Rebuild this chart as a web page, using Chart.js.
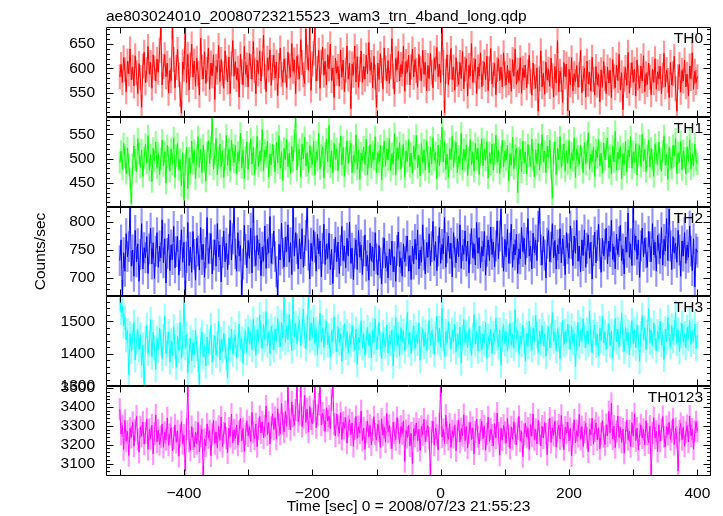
<!DOCTYPE html>
<html lang="en">
<head>
<meta charset="UTF-8">
<title>ae803024010 WAM light curve</title>
<script src="https://cdn.jsdelivr.net/npm/chart.js"></script>
<style>
body { margin: 0; background: #fff; }
#lc { display: block; }
</style>
</head>
<body>
<canvas id="lc" width="723" height="516"></canvas>
<script>
// time bins: start [sec] and bin width
const tStart = -500;
const tStep = 2;

const plotTitle = 'ae803024010_20080723215523_wam3_trn_4band_long.qdp';
const xTitle = 'Time [sec] 0 = 2008/07/23 21:55:23';
const yTitle = 'Counts/sec';
const bandNames = ['TH0', 'TH1', 'TH2', 'TH3', 'TH0123'];

// counts/sec per band, one row = 20 s
const th0 = [
  583, 608, 571, 622, 597, 552, 615, 589, 640, 576,
  603, 564, 626, 591, 548, 610, 581, 520, 605, 633,
  570, 597, 645, 588, 612, 559, 628, 601, 574, 619,
  592, 637, 684, 566, 604, 628, 583, 611, 549, 596,
  575, 685, 618, 560, 602, 639, 587, 547, 508, 613,
  598, 684, 571, 629, 556, 607, 650, 582, 615, 563,
  621, 590, 545, 662, 603, 578, 634, 569, 598, 642,
  557, 611, 585, 628, 536, 604, 592, 647, 573, 618,
  589, 559, 636, 601, 572, 623, 548, 609, 657, 584,
  614, 577, 600, 541, 629, 593, 566, 645, 588, 607,
  562, 631, 604, 578, 655, 596, 548, 617, 589, 636,
  574, 609, 668, 583, 552, 621, 597, 638, 565, 602,
  627, 580, 613, 544, 606, 642, 588, 571, 619, 596,
  561, 633, 605, 582, 651, 594, 617, 548, 625, 603,
  578, 659, 612, 587, 569, 681, 623, 596, 684, 555,
  609, 631, 683, 574, 600, 637, 559, 613, 644, 586,
  615, 566, 628, 599, 650, 575, 601, 540, 621, 590,
  604, 563, 638, 582, 617, 552, 596, 646, 578, 611,
  517, 609, 586, 646, 572, 624, 561, 598, 636, 571,
  604, 578, 627, 589, 653, 596, 612, 560, 625, 582,
  520, 611, 577, 630, 595, 558, 642, 601, 574, 616,
  569, 604, 661, 584, 547, 620, 597, 635, 574, 608,
  589, 646, 553, 614, 592, 627, 566, 603, 640, 582,
  618, 596, 561, 629, 600, 575, 637, 588, 612, 554,
  606, 579, 631, 592, 560, 621, 598, 643, 583, 609,
  571, 685, 612, 509, 594, 628, 566, 603, 641, 577,
  603, 555, 622, 588, 567, 612, 579, 635, 558, 598,
  620, 543, 606, 584, 651, 571, 596, 619, 548, 603,
  584, 632, 562, 590, 613, 577, 625, 554, 599, 641,
  568, 587, 610, 546, 597, 620, 575, 603, 562, 632,
  589, 566, 606, 571, 595, 553, 618, 584, 639, 567,
  596, 575, 622, 549, 600, 581, 607, 560, 593, 627,
  574, 545, 611, 583, 559, 601, 512, 578, 636, 562,
  590, 547, 613, 576, 598, 563, 621, 585, 541, 604,
  570, 657, 552, 594, 577, 530, 612, 583, 609, 513,
  598, 566, 622, 554, 589, 573, 606, 561, 587, 637,
  550, 579, 600, 541, 615, 568, 592, 553, 623, 577,
  545, 604, 566, 588, 531, 597, 561, 614, 579, 548,
  603, 570, 596, 540, 618, 583, 560, 607, 575, 629,
  556, 591, 515, 578, 602, 565, 633, 549, 586, 612,
  571, 598, 543, 617, 580, 559, 605, 574, 626, 552,
  589, 567, 611, 582, 546, 598, 571, 620, 557, 593,
  579, 604, 548, 586, 631, 562, 597, 575, 540, 612,
  566, 589, 625, 558, 512, 583, 608, 551, 596, 574,
  617, 562, 588, 543, 605, 579, 632, 557, 594, 571,
  583
];
const th1 = [
  492, 515, 478, 531, 503, 469, 522, 487, 459, 407,
  488, 526, 497, 473, 541, 510, 482, 518, 463, 501,
  529, 490, 547, 476, 508, 452, 521, 495, 534, 480,
  511, 467, 499, 538, 485, 514, 449, 527, 502, 474,
  520, 488, 543, 461, 506, 531, 477, 498, 444, 512,
  415, 486, 523, 438, 501, 469, 536, 490, 517, 458,
  507, 545, 482, 519, 471, 528, 496, 453, 512, 537,
  489, 524, 585, 478, 509, 541, 466, 502, 530, 483,
  516, 461, 499, 548, 486, 520, 474, 538, 507, 492,
  527, 468, 513, 495, 552, 481, 517, 459, 503, 534,
  478, 510, 541, 489, 523, 467, 500, 546, 484, 515,
  496, 560, 475, 518, 503, 536, 462, 509, 487, 529,
  505, 472, 533, 491, 547, 480, 514, 455, 521, 498,
  540, 483, 511, 469, 525, 494, 537, 586, 476, 508,
  519, 462, 530, 499, 544, 485, 512, 471, 527, 503,
  488, 535, 467, 514, 496, 552, 479, 506, 524, 460,
  511, 540, 493, 568, 482, 516, 470, 531, 498, 520,
  475, 509, 546, 487, 523, 463, 501, 537, 490, 515,
  532, 471, 506, 492, 549, 478, 518, 457, 511, 496,
  524, 488, 540, 466, 503, 529, 481, 514, 498, 545,
  470, 512, 493, 527, 456, 505, 536, 484, 520, 497,
  541, 476, 510, 489, 551, 467, 522, 500, 533, 478,
  506, 529, 462, 515, 494, 539, 483, 511, 470, 526,
  499, 548, 481, 507, 464, 531, 492, 518, 476, 537,
  503, 471, 524, 489, 543, 497, 512, 458, 528, 485,
  516, 565, 493, 535, 478, 509, 461, 520, 499, 546,
  482, 514, 533, 471, 505, 490, 552, 477, 519, 496,
  528, 465, 502, 539, 487, 513, 474, 531, 498, 521,
  467, 508, 541, 485, 519, 496, 535, 460, 512, 489,
  530, 476, 509, 548, 492, 517, 469, 503, 538, 483,
  515, 497, 527, 453, 510, 486, 544, 479, 507, 522,
  430, 501, 519, 472, 536, 491, 513, 468, 529, 504,
  484, 540, 497, 462, 518, 489, 531, 476, 509, 549,
  493, 515, 471, 526, 502, 538, 480, 418, 511, 534,
  467, 521, 498, 545, 482, 507, 530, 474, 516, 490,
  537, 479, 512, 496, 543, 461, 520, 505, 488, 528,
  500, 471, 533, 489, 515, 553, 478, 509, 494, 524,
  463, 518, 502, 539, 485, 511, 470, 532, 497, 520,
  542, 481, 507, 468, 526, 493, 556, 476, 513, 499,
  525, 458, 510, 488, 536, 472, 517, 503, 545, 480,
  514, 492, 531, 466, 508, 527, 484, 550, 495, 519,
  473, 506, 538, 482, 521, 497, 463, 529, 511, 488,
  534, 500, 474, 515, 547, 486, 509, 457, 523, 498,
  480, 527, 505, 541, 469, 512, 492, 535, 477, 516,
  501, 468, 524, 494, 539, 478, 510, 485, 530, 497,
  489
];
const th2 = [
  731, 768, 669, 745, 712, 779, 738, 756, 826, 721,
  750, 703, 785, 729, 761, 694, 742, 797, 716, 754,
  736, 774, 708, 752, 789, 725, 763, 699, 748, 781,
  719, 757, 736, 804, 727, 770, 691, 744, 778, 713,
  759, 733, 792, 718, 747, 774, 705, 740, 786, 728,
  764, 668, 737, 799, 722, 755, 710, 783, 742, 696,
  771, 748, 714, 790, 733, 760, 701, 745, 808, 726,
  753, 779, 707, 741, 768, 721, 797, 738, 759, 693,
  746, 784, 729, 762, 715, 751, 803, 732, 770, 826,
  743, 712, 781, 739, 758, 669, 725, 794, 751, 718,
  767, 735, 789, 709, 826, 748, 722, 776, 741, 762,
  704, 755, 730, 793, 717, 769, 745, 810, 726, 752,
  784, 738, 711, 669, 760, 732, 798, 744, 720, 773,
  747, 795, 728, 763, 706, 826, 739, 781, 752, 716,
  770, 734, 788, 719, 749, 776, 826, 741, 698, 762,
  730, 785, 755, 712, 778, 743, 766, 702, 753, 796,
  724, 760, 735, 780, 715, 751, 690, 742, 773, 729,
  764, 708, 749, 792, 731, 757, 718, 771, 739, 800,
  726, 753, 697, 744, 768, 715, 785, 737, 759, 706,
  748, 777, 721, 740, 696, 762, 730, 755, 713, 781,
  734, 705, 758, 727, 689, 745, 771, 718, 739, 700,
  752, 723, 766, 711, 738, 694, 749, 782, 720, 736,
  703, 761, 729, 748, 775, 712, 740, 697, 757, 725,
  769, 733, 786, 716, 750, 728, 795, 741, 707, 763,
  737, 779, 722, 756, 801, 731, 765, 713, 748, 790,
  726, 760, 743, 808, 719, 754, 775, 735, 762, 702,
  781, 746, 727, 770, 738, 795, 717, 758, 742, 784,
  730, 766, 709, 752, 788, 736, 761, 723, 799, 744,
  772, 718, 756, 739, 783, 705, 748, 768, 731, 791,
  742, 764, 720, 757, 802, 734, 775, 823, 746, 712,
  769, 738, 787, 726, 753, 796, 719, 760, 741, 778,
  708, 752, 734, 790, 747, 771, 724, 763, 806, 739,
  757, 716, 780, 745, 768, 731, 792, 825, 750, 723,
  774, 741, 700, 762, 785, 729, 755, 797, 736, 767,
  716, 759, 743, 788, 727, 770, 749, 706, 781, 752,
  735, 793, 761, 722, 775, 744, 803, 730, 757, 711,
  768, 740, 786, 719, 753, 777, 735, 764, 698, 749,
  782, 727, 758, 796, 743, 710, 771, 739, 760, 789,
  725, 766, 747, 803, 733, 756, 716, 778, 742, 765,
  794, 731, 752, 707, 773, 746, 816, 737, 761, 722,
  826, 750, 775, 733, 768, 701, 757, 789, 738, 771,
  745, 719, 783, 756, 729, 797, 741, 764, 712, 776,
  752, 735, 790, 723, 769, 748, 806, 731, 823, 757,
  715, 774, 744, 762, 728, 785, 750, 703, 766, 739,
  781, 726, 759, 737, 793, 748, 713, 770, 684, 752,
  746
];
const th3 = [
  1571, 1528, 1549, 1486, 1512, 1443, 1471, 1335, 1462, 1408,
  1452, 1497, 1381, 1436, 1475, 1412, 1458, 1364, 1427, 1300,
  1445, 1488, 1402, 1431, 1506, 1390, 1466, 1418, 1352, 1447,
  1413, 1479, 1437, 1385, 1452, 1516, 1401, 1429, 1468, 1374,
  1440, 1395, 1483, 1422, 1358, 1455, 1410, 1497, 1386, 1431,
  1577, 1419, 1461, 1342, 1407, 1449, 1378, 1434, 1398, 1472,
  1416, 1383, 1305, 1441, 1467, 1391, 1425, 1362, 1452, 1403,
  1437, 1488, 1374, 1419, 1456, 1396, 1430, 1501, 1381, 1444,
  1409, 1463, 1421, 1390, 1327, 1448, 1412, 1476, 1399, 1435,
  1458, 1387, 1427, 1492, 1415, 1446, 1371, 1439, 1469, 1404,
  1482, 1430, 1466, 1413, 1507, 1449, 1395, 1474, 1438, 1520,
  1455, 1417, 1491, 1442, 1530, 1426, 1469, 1401, 1485, 1451,
  1412, 1476, 1439, 1509, 1460, 1422, 1497, 1448, 1577, 1435,
  1487, 1444, 1521, 1468, 1409, 1577, 1452, 1494, 1431, 1478,
  1503, 1426, 1470, 1538, 1457, 1415, 1484, 1577, 1441, 1496,
  1449, 1512, 1433, 1475, 1398, 1461, 1526, 1437, 1480, 1419,
  1467, 1501, 1428, 1455, 1389, 1472, 1438, 1514, 1446, 1406,
  1483, 1435, 1462, 1377, 1449, 1493, 1420, 1468, 1403, 1457,
  1429, 1488, 1445, 1412, 1476, 1367, 1451, 1434, 1502, 1418,
  1463, 1396, 1440, 1481, 1425, 1459, 1387, 1473, 1436, 1508,
  1414, 1452, 1497, 1430, 1385, 1466, 1443, 1421, 1489, 1402,
  1458, 1431, 1474, 1363, 1447, 1512, 1426, 1460, 1393, 1481,
  1437, 1470, 1409, 1453, 1528, 1429, 1465, 1401, 1448, 1486,
  1416, 1459, 1432, 1495, 1380, 1444, 1477, 1423, 1467, 1410,
  1452, 1503, 1426, 1471, 1439, 1398, 1462, 1516, 1435, 1479,
  1420, 1541, 1446, 1392, 1468, 1432, 1499, 1455, 1414, 1473,
  1438, 1491, 1405, 1460, 1427, 1483, 1371, 1450, 1506, 1433,
  1466, 1418, 1477, 1442, 1395, 1457, 1521, 1430, 1469, 1408,
  1485, 1447, 1413, 1461, 1432, 1498, 1386, 1454, 1428, 1476,
  1401, 1463, 1437, 1510, 1449, 1421, 1473, 1365, 1445, 1490,
  1431, 1468, 1409, 1452, 1494, 1426, 1460, 1417, 1536, 1443,
  1472, 1398, 1455, 1429, 1488, 1440, 1377, 1464, 1423, 1501,
  1446, 1413, 1479, 1436, 1519, 1458, 1404, 1470, 1431, 1487,
  1425, 1461, 1393, 1448, 1482, 1419, 1456, 1527, 1438, 1466,
  1410, 1477, 1444, 1384, 1459, 1503, 1428, 1469, 1436, 1492,
  1451, 1415, 1486, 1434, 1463, 1360, 1448, 1497, 1422, 1475,
  1439, 1508, 1457, 1418, 1471, 1430, 1531, 1446, 1403, 1465,
  1488, 1427, 1459, 1395, 1478, 1441, 1515, 1433, 1467, 1412,
  1454, 1493, 1425, 1470, 1386, 1449, 1509, 1437, 1476, 1420,
  1462, 1526, 1444, 1407, 1481, 1439, 1466, 1396, 1457, 1502,
  1431, 1474, 1418, 1489, 1450, 1376, 1463, 1519, 1442, 1480,
  1412, 1466, 1539, 1435, 1472, 1424, 1495, 1451, 1409, 1468,
  1445, 1501, 1428, 1459, 1383, 1476, 1437, 1512, 1453, 1421,
  1487, 1440, 1465, 1527, 1432, 1473, 1406, 1458, 1494, 1436,
  1462, 1419, 1481, 1447, 1503, 1429, 1470, 1438, 1492, 1416,
  1458
];
const th0123 = [
  3388, 3256, 3301, 3174, 3329, 3218, 3271, 3142, 3287, 3239,
  3318, 3192, 3276, 3351, 3228, 3160, 3294, 3245, 3320, 3203,
  3262, 3337, 3175, 3281, 3233, 3304, 3151, 3259, 3358, 3214,
  3277, 3200, 3243, 3310, 3186, 3265, 3226, 3342, 3197, 3254,
  3290, 3168, 3236, 3305, 3212, 3274, 3139, 3249, 3322, 3205,
  3251, 3060, 3283, 3510, 3219, 3170, 3296, 3231, 3188, 3267,
  3205, 3318, 3162, 3246, 3281, 3034, 3228, 3193, 3310, 3237,
  3274, 3141, 3255, 3329, 3206, 3268, 3182, 3297, 3223, 3346,
  3191, 3262, 3314, 3235, 3157, 3288, 3244, 3362, 3211, 3279,
  3233, 3305, 3198, 3271, 3340, 3219, 3286, 3164, 3258, 3327,
  3247, 3295, 3218, 3372, 3266, 3231, 3310, 3189, 3284, 3350,
  3262, 3321, 3236, 3299, 3405, 3253, 3318, 3204, 3292, 3364,
  3281, 3343, 3229, 3390, 3305, 3256, 3419, 3312, 3268, 3376,
  3298, 3510, 3335, 3279, 3427, 3351, 3302, 3384, 3510, 3322,
  3360, 3510, 3297, 3345, 3461, 3318, 3389, 3266, 3402, 3337,
  3311, 3378, 3510, 3290, 3356, 3415, 3510, 3304, 3367, 3331,
  3270, 3396, 3325, 3351, 3284, 3439, 3510, 3309, 3246, 3362,
  3301, 3261, 3370, 3228, 3319, 3287, 3344, 3208, 3296, 3333,
  3252, 3315, 3191, 3284, 3350, 3233, 3297, 3261, 3379, 3222,
  3289, 3176, 3265, 3326, 3241, 3302, 3199, 3278, 3348, 3256,
  3224, 3309, 3272, 3185, 3337, 3250, 3292, 3213, 3365, 3268,
  3302, 3237, 3180, 3319, 3263, 3227, 3344, 3282, 3206, 3297,
  3259, 3326, 3110, 3275, 3238, 3303, 3194, 3261, 3100, 3285,
  3246, 3315, 3220, 3282, 3169, 3297, 3253, 3336, 3216, 3274,
  3301, 3235, 3040, 3268, 3324, 3197, 3289, 3249, 3173, 3312,
  3510, 3241, 3282, 3206, 3356, 3263, 3228, 3311, 3186, 3274,
  3239, 3305, 3167, 3271, 3330, 3214, 3285, 3248, 3359, 3221,
  3296, 3183, 3262, 3318, 3227, 3290, 3151, 3268, 3336, 3242,
  3204, 3279, 3325, 3232, 3300, 3170, 3257, 3346, 3218, 3284,
  3251, 3193, 3312, 3236, 3368, 3261, 3145, 3287, 3224, 3302,
  3266, 3208, 3339, 3247, 3180, 3295, 3230, 3321, 3259, 3199,
  3284, 3350, 3219, 3270, 3136, 3253, 3314, 3240, 3288, 3175,
  3307, 3245, 3363, 3226, 3281, 3204, 3329, 3260, 3193, 3298,
  3235, 3317, 3258, 3147, 3276, 3341, 3212, 3289, 3249, 3326,
  3187, 3269, 3304, 3231, 3355, 3248, 3173, 3293, 3262, 3319,
  3221, 3286, 3140, 3257, 3332, 3209, 3275, 3244, 3361, 3228,
  3296, 3190, 3267, 3313, 3235, 3162, 3281, 3252, 3340, 3203,
  3273, 3315, 3226, 3290, 3178, 3259, 3327, 3241, 3200, 3306,
  3247, 3376, 3263, 3419, 3230, 3298, 3184, 3271, 3352, 3239,
  3291, 3212, 3283, 3155, 3264, 3330, 3226, 3273, 3190, 3316,
  3245, 3364, 3221, 3288, 3172, 3257, 3305, 3236, 3281, 3199,
  3327, 3255, 3210, 3298, 3040, 3262, 3343, 3235, 3271, 3164,
  3306, 3219, 3280, 3349, 3242, 3188, 3296, 3253, 3318, 3227,
  3269, 3338, 3201, 3287, 3239, 3060, 3274, 3312, 3226, 3293,
  3192, 3265, 3301, 3214, 3352, 3247, 3283, 3176, 3270, 3321,
  3270
];
// typical 1-sigma error per band
const errors = [25, 22, 27, 38, 57];

const FONT = { family: "'Liberation Sans', Helvetica, Arial, sans-serif", size: 15.5 };

// panel layout, top to bottom
const panels = [
  { id: 'y0', values: th0,    color: '255,0,0',   min: 500.5, max: 685,  step: 50,  minor: 10 },
  { id: 'y1', values: th1,    color: '0,255,0',   min: 401,   max: 586,  step: 50,  minor: 10 },
  { id: 'y2', values: th2,    color: '0,0,255',   min: 667,   max: 827.5, step: 50, minor: 10 },
  { id: 'y3', values: th3,    color: '0,255,255', min: 1300,  max: 1577, step: 100, minor: 20 },
  { id: 'y4', values: th0123, color: '255,0,255', min: 3034,  max: 3510, step: 100, minor: 20 }
];

const times = th0.map((_, i) => tStart + i * tStep);

const datasets = [];
panels.forEach((p, k) => {
  datasets.push({
    type: 'line',
    yAxisID: p.id,
    data: p.values.map((v, i) => ({ x: times[i], y: v })),
    borderColor: 'rgb(' + p.color + ')',
    borderWidth: 1,
    pointRadius: 0,
    tension: 0,
    clip: 0,
    order: 0
  });
  datasets.push({
    type: 'bar',
    yAxisID: p.id,
    data: p.values.map((v, i) => ({ x: times[i], y: [v - errors[k], v + errors[k]] })),
    backgroundColor: 'rgba(' + p.color + ',0.42)',
    barThickness: 1.5,
    grouped: false,
    clip: 0,
    order: 1
  });
});

const minus = v => (v < 0 ? '\u2212' + (-v) : String(v));

const scales = {
  x: {
    type: 'linear', position: 'bottom', min: -521.5, max: 421.2, offset: false,
    ticks: { stepSize: 200, includeBounds: false, callback: minus, font: FONT, color: '#000', padding: 8, maxRotation: 0, autoSkip: false },
    grid: { display: false, drawTicks: false },
    border: { display: false },
    title: { display: true, text: xTitle, font: FONT, color: '#000', padding: { top: 0, bottom: 0 } },
    afterFit: s => { s.height = 40; }
  },
  xt: {
    type: 'linear', position: 'top', min: -521.5, max: 421.2,
    ticks: { display: false },
    grid: { display: false, drawTicks: false },
    border: { display: false },
    title: { display: true, text: plotTitle, align: 'start', font: FONT, color: '#000', padding: { top: 7, bottom: 0 } },
    afterFit: s => { s.height = 27; }
  }
};
panels.forEach((p, k) => {
  scales[p.id] = {
    type: 'linear', position: 'left', stack: 'bands', stackWeight: 1, weight: 5 - k,
    min: p.min, max: p.max,
    ticks: { stepSize: p.step, includeBounds: false, autoSkip: false, callback: v => String(v), font: FONT, color: '#000', padding: 11 },
    grid: { display: false, drawTicks: false },
    border: { display: false },
    title: k === 2
      ? { display: true, text: yTitle, font: FONT, color: '#000', padding: { top: 31, bottom: 0 } }
      : { display: false },
    afterFit: s => { s.width = 106; }
  };
});

// qdp style frame: boxes per band with inward ticks on every side
const innerTicks = {
  id: 'innerTicks',
  afterDatasetsDraw(chart) {
    const ctx = chart.ctx;
    const area = chart.chartArea;
    const xs = chart.scales.x;
    const L = area.left + 0.5, R = area.right - 0.5;
    ctx.save();
    ctx.strokeStyle = '#000';
    ctx.lineWidth = 1;
    ctx.beginPath();
    panels.forEach((p, k) => {
      const ys = chart.scales[p.id];
      const top = Math.round(ys.top) + 0.5;
      const bot = Math.round(ys.bottom) - 0.5;
      ctx.moveTo(L, top); ctx.lineTo(R, top);
      ctx.moveTo(L, bot); ctx.lineTo(R, bot);
      ctx.moveTo(L, top); ctx.lineTo(L, bot);
      ctx.moveTo(R, top); ctx.lineTo(R, bot);
      for (let v = Math.ceil(p.min / p.minor) * p.minor; v <= p.max; v += p.minor) {
        const y = Math.round(ys.getPixelForValue(v)) + 0.5;
        const len = v % p.step === 0 ? 7 : 3.5;
        ctx.moveTo(L, y); ctx.lineTo(L + len, y);
        ctx.moveTo(R, y); ctx.lineTo(R - len, y);
      }
      for (let t = -500; t <= 400; t += 100) {
        const x = Math.round(xs.getPixelForValue(t)) + 0.5;
        ctx.moveTo(x, top); ctx.lineTo(x, top + 6);
        ctx.moveTo(x, bot); ctx.lineTo(x, bot - 6);
      }
    });
    ctx.stroke();
    ctx.fillStyle = '#000';
    ctx.font = FONT.size + 'px ' + FONT.family;
    ctx.textAlign = 'right';
    ctx.textBaseline = 'alphabetic';
    panels.forEach((p, k) => {
      const ys = chart.scales[p.id];
      ctx.fillText(bandNames[k], area.right - 8, ys.top + 16);
    });
    ctx.restore();
  }
};

new Chart(document.getElementById('lc').getContext('2d'), {
  type: 'line',
  data: { datasets: datasets },
  options: {
    responsive: false,
    devicePixelRatio: 1,
    animation: false,
    events: [],
    layout: { padding: { left: 0, right: 12, top: 0, bottom: 0 } },
    plugins: { legend: { display: false }, tooltip: { enabled: false } },
    scales: scales
  },
  plugins: [innerTicks]
});
</script>
</body>
</html>
